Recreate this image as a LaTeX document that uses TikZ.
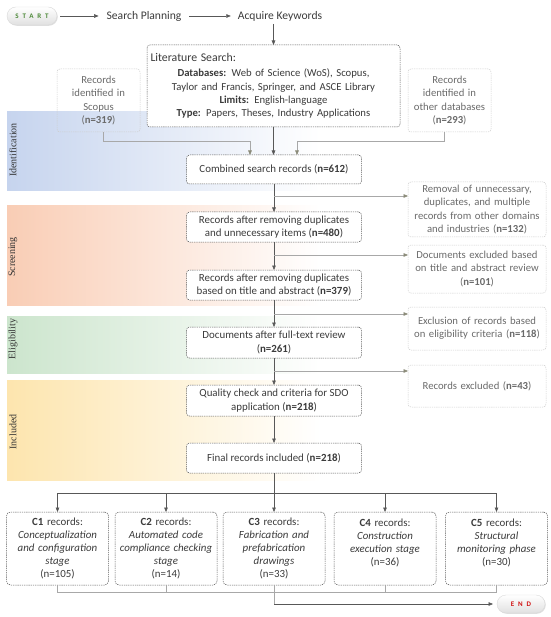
\documentclass[tikz,border=0pt]{standalone}
\usepackage{fontspec}
\setmainfont{Carlito}
\newfontfamily\bandfont{Liberation Serif}
\usetikzlibrary{arrows.meta,shadows}
\definecolor{txtc}{HTML}{3B3B3B}
\definecolor{sidetxt}{HTML}{6A6A6A}
\definecolor{mainln}{HTML}{585858}
\definecolor{sideln}{HTML}{A8A8A8}
\definecolor{sidebd}{HTML}{CDCDCD}
\definecolor{sidetip}{HTML}{8A8A78}
\definecolor{idc}{HTML}{C6D4EE}
\definecolor{scc}{HTML}{F9CDB5}
\definecolor{elc}{HTML}{CCE5CD}
\definecolor{inc}{HTML}{FDE5AE}
\definecolor{startgreen}{HTML}{4E8A3A}
\definecolor{endred}{HTML}{D01010}
\begin{document}
\begin{tikzpicture}[x=1pt,y=-1pt,
  every node/.style={inner sep=0pt, outer sep=0pt},
  mainbox/.style={draw=mainln, dash pattern=on 1.3pt off 0.9pt, line width=0.5pt, rounded corners=3pt, fill=white, minimum width=175pt, align=center, text=txtc, font=\fontsize{10.9}{13.3}\selectfont},
  sidebox/.style={draw=sidebd, dash pattern=on 1.3pt off 0.9pt, line width=0.5pt, rounded corners=3pt, align=center, text=sidetxt, font=\fontsize{10.7}{13.4}\selectfont},
  cbox/.style={draw=mainln, dash pattern=on 1.3pt off 0.9pt, line width=0.5pt, rounded corners=4pt, fill=white, minimum width=102pt, minimum height=73pt, text width=100pt, align=center, text=txtc, font=\fontsize{10.9}{13.1}\selectfont},
  pill/.style={rounded corners=9pt, minimum height=18pt, top color=white, bottom color=black!12, draw=black!15, drop shadow={opacity=0.25, shadow xshift=0.8pt, shadow yshift=-0.8pt}},
  toptxt/.style={font=\fontsize{11.6}{13}\selectfont, text=txtc},
  arr/.style={draw=mainln, line width=0.6pt, -{Triangle[length=4.5pt,width=3.6pt]}},
  ln/.style={draw=mainln, line width=0.6pt},
  sarr/.style={draw=sideln, line width=0.6pt, -{Triangle[length=4.5pt,width=3.6pt,color=sidetip]}},
  sln/.style={draw=sideln, line width=0.6pt},
  bandlbl/.style={rotate=90, font=\bandfont\fontsize{10}{12}\selectfont, text=black!80},
]
\useasboundingbox (0,0) rectangle (550,617);

% phase bands
\shade[left color=idc, right color=white] (7,112) rectangle (320,191);
\shade[left color=scc, right color=white] (7,206) rectangle (320,305);
\shade[left color=elc, right color=white] (7,316) rectangle (320,373);
\shade[left color=inc, right color=white] (7,380) rectangle (320,480);
\node[bandlbl] (lid) at (13,150) {Identification};
\node[bandlbl] (lsc) at (13,257) {Screening};
\node[bandlbl] (lel) at (13,339) {Eligibility};
\node[bandlbl] (lin) at (13,432) {Included};

% top row
\node[pill, minimum width=50pt] (start) at (32,16) {\fontsize{7}{8}\selectfont\bfseries\addfontfeature{LetterSpace=55}\textcolor{startgreen}{START}};
\node[toptxt] (plan) at (144,16) {Search Planning};
\node[toptxt] (acq) at (280,16) {Acquire Keywords};
\draw[arr, shorten <=3pt, shorten >=8pt] (start.east) -- (plan.west);
\draw[arr, shorten <=8pt, shorten >=7pt] (plan.east) -- (acq.west);

% literature search
\node[mainbox, minimum width=253pt, minimum height=82pt, text width=246pt, anchor=north, font=\fontsize{10.7}{13.3}\selectfont] (lit) at (273.5,45)
 {\makebox[246pt][l]{\fontsize{11.8}{14}\selectfont Literature Search:}\\[2pt]
  \textbf{Databases:} Web of Science (WoS), Scopus,\\
  Taylor and Francis, Springer, and ASCE Library\\
  \textbf{Limits:} English-language\\
  \textbf{Type:} Papers, Theses, Industry Applications};
\draw[arr, shorten <=3pt] (lit.north |- acq.south) -- (lit.north);

\node[sidebox, minimum width=83pt, minimum height=63pt, text width=82pt] (scopus) at (98.5,100.5)
 {Records\\ identified in\\ Scopus\\ (\textbf{n=319})};
\node[sidebox, minimum width=83pt, minimum height=63pt, text width=82pt] (other) at (449.5,100.5)
 {Records\\ identified in\\ other databases\\ (\textbf{n=293})};

% main chain
\node[mainbox, minimum height=29pt] (comb) at (274,169.5) {Combined search records (\textbf{n=612})};
\node[mainbox, minimum height=30pt] (r480) at (274,227) {Records after removing duplicates\\ and unnecessary items (\textbf{n=480})};
\node[mainbox, minimum height=30pt] (r379) at (274,285) {Records after removing duplicates\\ based on title and abstract (\textbf{n=379})};
\node[mainbox, minimum height=31pt] (r261) at (274,342.5) {Documents after full-text review\\ (\textbf{n=261})};
\node[mainbox, minimum height=31pt] (r218) at (274,400.5) {Quality check and criteria for SDO\\ application (\textbf{n=218})};
\node[mainbox, minimum height=30pt] (final) at (274,458) {Final records included (\textbf{n=218})};

% side boxes
\node[sidebox, minimum width=138pt, minimum height=55pt, text width=136pt] (rem) at (477,209.5)
 {Removal of unnecessary,\\ duplicates, and multiple\\ records from other domains\\ and industries (\textbf{n=132})};
\node[sidebox, minimum width=138pt, minimum height=48pt, text width=136pt] (ex101) at (477,269)
 {Documents excluded based\\ on title and abstract review\\ (\textbf{n=101})};
\node[sidebox, minimum width=138pt, minimum height=43pt, text width=136pt] (ex118) at (477,328.5)
 {Exclusion of records based\\ on eligibility criteria (\textbf{n=118})};
\node[sidebox, minimum width=138pt, minimum height=42pt, text width=136pt] (ex43) at (477,386)
 {Records excluded (\textbf{n=43})};

% input connectors
\coordinate (jn) at (0,141);
\draw[sarr] ([xshift=4.5pt]scopus.south) |- ([xshift=-24pt]comb.north |- jn) -- ([xshift=-24pt]comb.north);
\draw[sarr] ([xshift=-5pt]other.south) |- ([xshift=23pt]comb.north |- jn) -- ([xshift=23pt]comb.north);
\draw[arr] (lit.south) -- (lit.south |- comb.north);

\draw[arr] (comb.south) -- (r480.north);
\draw[arr] (r480.south) -- (r379.north);
\draw[arr] (r379.south) -- (r261.north);
\draw[arr] (r261.south) -- (r218.north);
\draw[arr] (r218.south) -- (final.north);

\coordinate (b1) at (0,196);
\coordinate (b2) at (0,255);
\coordinate (b3) at (0,314);
\coordinate (b4) at (0,371);
\draw[sarr] (comb.south |- b1) -- (rem.west |- b1);
\draw[sarr] (r480.south |- b2) -- (ex101.west |- b2);
\draw[sarr] (r379.south |- b3) -- (ex118.west |- b3);
\draw[sarr] (r261.south |- b4) -- (ex43.west |- b4);

% category boxes
\node[cbox] (c1) at (57.5,548.5) {\textbf{C1} records:\\ \textit{Conceptualization}\\ \textit{and configuration}\\ \textit{stage}\\ (n=105)};
\node[cbox] (c2) at (166,548.5) {\textbf{C2} records:\\ \textit{Automated code}\\ \textit{compliance checking}\\ \textit{stage}\\ (n=14)};
\node[cbox] (c3) at (274,548.5) {\textbf{C3} records:\\ \textit{Fabrication and}\\ \textit{prefabrication}\\ \textit{drawings}\\ (n=33)};
\node[cbox] (c4) at (385,548.5) {\textbf{C4} records:\\ \textit{Construction}\\ \textit{execution stage}\\ (n=36)\\ \mbox{}};
\node[cbox] (c5) at (496.5,548.5) {\textbf{C5} records:\\ \textit{Structural}\\ \textit{monitoring phase}\\ (n=30)\\ \mbox{}};

\coordinate (hub) at (0,493);
\draw[ln] (c1.north |- hub) -- (c5.north |- hub);
\draw[arr] (final.south) -- (c3.north);
\draw[arr] (c1.north |- hub) -- (c1.north);
\draw[arr] (c2.north |- hub) -- (c2.north);
\draw[arr] (c4.north |- hub) -- (c4.north);
\draw[arr] (c5.north |- hub) -- (c5.north);

% bottom collection
\node[pill, minimum width=48pt] (endn) at (521,604) {\fontsize{7}{8}\selectfont\bfseries\addfontfeature{LetterSpace=55}\textcolor{endred}{END}};
\coordinate (gb) at (0,592);
\coordinate (ge) at (0,604);
\draw[sln] (c1.south) -- (c1.south |- gb) -- (c5.south |- gb) -- (c5.south);
\draw[sln] (c2.south) -- (c2.south |- gb);
\draw[sln] (c4.south) -- (c4.south |- gb);
\draw[sln] (c3.south) -- (c3.south |- ge);
\draw[arr, shorten >=4pt] (c3.south |- ge) -- (endn.west);
\end{tikzpicture}
\end{document}
